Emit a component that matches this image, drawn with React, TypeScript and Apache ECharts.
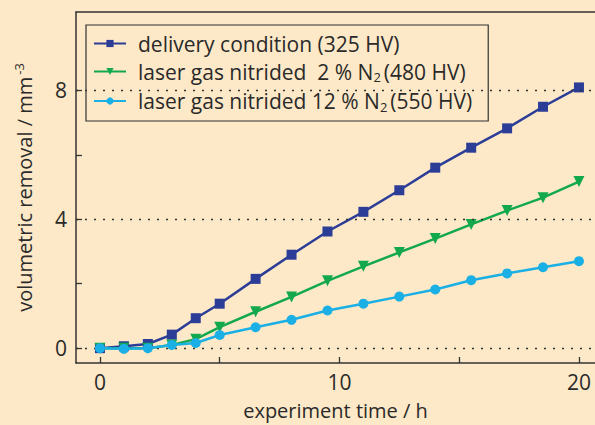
import React, { useEffect, useRef } from "react";
import * as echarts from "echarts";

const hoursA = [0, 1, 2, 3, 4, 5, 6.5, 8, 9.5, 11, 12.5, 14, 15.5, 17, 18.5, 20];
const delivery = [0, 0.06, 0.13, 0.42, 0.93, 1.38, 2.15, 2.9, 3.62, 4.23, 4.9, 5.6, 6.22, 6.82, 7.49, 8.09];
const nitrided2 = [0, 0, 0, 0.1, 0.28, 0.65, 1.13, 1.59, 2.09, 2.54, 2.97, 3.4, 3.84, 4.27, 4.67, 5.17];
const nitrided12 = [0, -0.02, 0, 0.1, 0.16, 0.41, 0.65, 0.88, 1.17, 1.38, 1.6, 1.82, 2.11, 2.32, 2.51, 2.7];
const seriesNames = [
  "delivery condition (325 HV)",
  "laser gas nitrided  2 % N2 (480 HV)",
  "laser gas nitrided 12 % N2 (550 HV)",
];
const legendRich = [
  "delivery condition (325 HV)",
  "laser gas nitrided  2 % N{sub|2}(480 HV)",
  "laser gas nitrided 12 % N{sub|2}(550 HV)",
];
const yTicks = [0, 2, 4, 6, 8];
const yLabels = [0, 4, 8];
const xTicks = [0, 5, 10, 15, 20];
const xLabels = [0, 10, 20];
const gridValues = [0, 4, 8];

const FONT = "Open Sans";
const TXT = "#2a2a2a";

export default function App() {
  const ref = useRef<HTMLDivElement>(null);
  useEffect(() => {
    const chart = echarts.init(ref.current!, undefined, { renderer: "svg" });
    const pair = (ys: number[]) => hoursA.map((x, i) => [x, ys[i]]);
    const colors = ["#2b3d97", "#12a84c", "#1ab0e6"];
    const symbols = ["rect", "triangle", "circle"];
    const datas = [delivery, nitrided2, nitrided12];
    chart.setOption({
      animation: false,
      backgroundColor: "#fde9c8",
      textStyle: { fontFamily: FONT, color: TXT },
      grid: { left: 76, top: 12, right: 0, bottom: 59 },
      legend: {
        orient: "vertical",
        left: 86,
        top: 25,
        padding: [8, 16, 8, 7],
        itemGap: 7,
        itemWidth: 32,
        itemHeight: 9,
        borderColor: "#333",
        borderWidth: 1.2,
        data: seriesNames,
        formatter: (name: string) => legendRich[seriesNames.indexOf(name)],
        textStyle: {
          fontFamily: FONT,
          fontSize: 21,
          color: TXT,
          lineHeight: 20,
          padding: [0, 0, 0, 7],
          rich: {
            sub: { fontSize: 13, fontFamily: FONT, color: TXT, padding: [11, 3, 0, 0] },
          },
        },
      },
      xAxis: [
        {
          type: "value",
          min: -1,
          max: 20.67,
          axisLine: { show: true, onZero: false, lineStyle: { color: "#333", width: 1.5 } },
          axisTick: { show: true, inside: true, length: 6, customValues: xTicks, lineStyle: { color: "#333", width: 1.3 } },
          axisLabel: { customValues: xLabels, fontFamily: FONT, fontSize: 21, color: TXT, margin: 8 },
          splitLine: { show: false },
          name: "experiment time / h",
          nameLocation: "middle",
          nameGap: 37,
          nameTextStyle: { fontFamily: FONT, fontSize: 20, color: TXT },
        },
        {
          type: "value",
          position: "top",
          min: -1,
          max: 20.67,
          axisLine: { show: true, onZero: false, lineStyle: { color: "#333", width: 1.5 } },
          axisTick: { show: false },
          axisLabel: { show: false },
          splitLine: { show: false },
        },
      ],
      yAxis: {
        type: "value",
        min: -0.46,
        max: 10.43,
        axisLine: { show: true, onZero: false, lineStyle: { color: "#333", width: 1.5 } },
        axisTick: { show: true, inside: true, length: 6, customValues: yTicks, lineStyle: { color: "#333", width: 1.3 } },
        axisLabel: { customValues: yLabels, fontFamily: FONT, fontSize: 21, color: TXT, margin: 9 },
        splitLine: { show: false },
        name: "volumetric removal / mm{sup|-3}",
        nameLocation: "middle",
        nameRotate: 90,
        nameGap: 40,
        nameTextStyle: {
          fontFamily: FONT,
          fontSize: 20,
          color: TXT,
          rich: { sup: { fontSize: 13, fontFamily: FONT, color: TXT, padding: [0, 0, 11, 2] } },
        },
      },
      series: [
        {
          type: "line",
          name: "grid",
          data: [],
          silent: true,
          markLine: {
            silent: true,
            symbol: "none",
            label: { show: false },
            lineStyle: { color: "#333", type: [2, 7], width: 1.4 },
            data: gridValues.map((v) => ({ yAxis: v })),
          },
        },
        ...datas.map((d, i) => ({
          type: "line",
          name: seriesNames[i],
          data: pair(d),
          symbol: symbols[i],
          symbolRotate: i === 1 ? 180 : 0,
          symbolSize: i === 1 ? 11 : 10,
          showSymbol: true,
          color: colors[i],
          lineStyle: { color: colors[i], width: 2.5 },
          itemStyle: { color: colors[i] },
          z: 3 + i,
        })),
      ],
    });
    return () => chart.dispose();
  }, []);
  return <div ref={ref} style={{ width: 595, height: 425, position: "fixed", left: 0, top: 0 }} />;
}
